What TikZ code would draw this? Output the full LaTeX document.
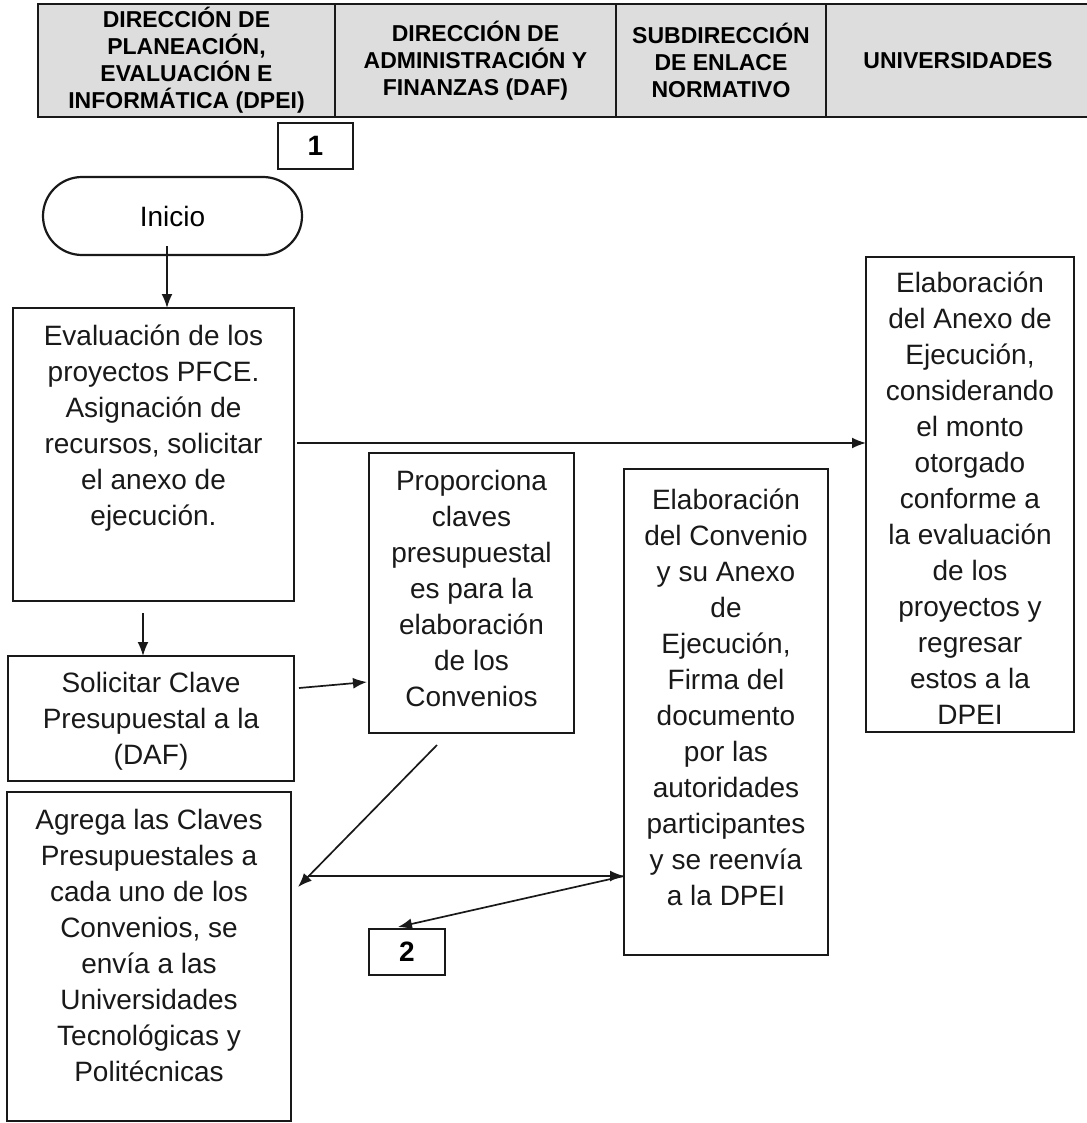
\documentclass[tikz,border=0pt]{standalone}
\usepackage{fontspec}
\setmainfont{Liberation Sans}
\usetikzlibrary{arrows.meta}
\begin{document}
\begin{tikzpicture}[x=1pt,y=-1pt,
  box/.style={draw=black!90, line width=2.2pt, inner sep=0pt, outer sep=0pt},
  hcell/.style={box, fill=gray!27, minimum height=113pt, align=center, font=\fontsize{23}{27}\selectfont\bfseries},
  txt/.style={align=center, inner sep=0pt, font=\fontsize{28}{36}\selectfont, text=black!90},
  num/.style={box, font=\fontsize{28}{32}\selectfont\bfseries},
  arr/.style={-{Latex[length=14pt,width=11pt]}, line width=1.7pt, draw=black!90}]
\useasboundingbox (0,0) rectangle (1086,1123);

% header
\node[hcell, minimum width=297pt] (h1) at (186.5,60.5) {DIRECCIÓN DE\\PLANEACIÓN,\\EVALUACIÓN E\\INFORMÁTICA (DPEI)};
\node[hcell, minimum width=281pt] (h2) at (475.5,60.5) {DIRECCIÓN DE\\ADMINISTRACIÓN Y\\FINANZAS (DAF)};
\node[hcell, minimum width=210pt] (h3) at (721,60.5) {SUBDIRECCIÓN\\DE ENLACE\\NORMATIVO};
\node[hcell, minimum width=264pt] (h4) at (958,60.5) {UNIVERSIDADES};

% connector labels
\node[num, minimum width=75pt, minimum height=46pt] (n1) at (315.5,146) {1};
\node[num, minimum width=76pt, minimum height=46pt] (n2) at (407,952) {2};

% start
\node[box, rounded corners=39pt, minimum width=259pt, minimum height=78pt, font=\fontsize{28}{36}\selectfont] (inicio) at (172.5,216) {Inicio};

% boxes
\node[box, minimum width=281pt, minimum height=293pt] (eval) at (153.5,454.5) {};
\node[box, minimum width=286pt, minimum height=125pt] (sol) at (151,718.5) {};
\node[box, minimum width=284pt, minimum height=329pt] (agr) at (149,956.5) {};
\node[box, minimum width=205pt, minimum height=280pt] (prop) at (471.5,593) {};
\node[box, minimum width=204pt, minimum height=486pt] (conv) at (726,712) {};
\node[box, minimum width=208pt, minimum height=475pt] (anexo) at (970,494.5) {};

% texts
\node[txt] (teval) at (153.5,428) {Evaluación de los\\proyectos PFCE.\\Asignación de\\recursos, solicitar\\el anexo de\\ejecución.};
\node[txt] (tsol) at (151,721) {Solicitar Clave\\Presupuestal a la\\(DAF)};
\node[txt] (tagr) at (149,945) {Agrega las Claves\\Presupuestales a\\cada uno de los\\Convenios, se\\envía a las\\Universidades\\Tecnológicas y\\Politécnicas};
\node[txt] (tprop) at (471.5,588) {Proporciona\\claves\\presupuestal\\es para la\\elaboración\\de los\\Convenios};
\node[txt] (tconv) at (726,697) {Elaboración\\del Convenio\\y su Anexo\\de\\Ejecución,\\Firma del\\documento\\por las\\autoridades\\participantes\\y se reenvía\\a la DPEI};
\node[txt] (tanexo) at (970,498) {Elaboración\\del Anexo de\\Ejecución,\\considerando\\el monto\\otorgado\\conforme a\\la evaluación\\de los\\proyectos y\\regresar\\estos a la\\DPEI};

% connectors
\coordinate (a1) at ([xshift=-5.5pt,yshift=9pt]inicio.south);
\draw[arr] (a1) -- (a1 |- eval.north);
\coordinate (a2) at ([xshift=-10.5pt,yshift=-12pt]eval.south);
\draw[arr] (a2) -- (a2 |- sol.north);
\coordinate (a3) at ([xshift=3pt,yshift=11.5pt]eval.east);
\draw[arr] (a3) -- (a3 -| anexo.west);
\draw[arr] ([xshift=5pt,yshift=30.5pt]sol.east) -- ([xshift=-2pt,yshift=-89pt]prop.west);
\draw[arr] ([xshift=-34.5pt,yshift=-12pt]prop.south) -- ([xshift=7pt,yshift=69.5pt]agr.east);
\coordinate (a6) at ([xshift=17pt,yshift=80.5pt]agr.east);
\draw[arr] (a6) -- (a6 -| conv.west);
\draw[arr] (a6 -| conv.west) -- ([xshift=-9pt,yshift=2pt]n2.north);
\end{tikzpicture}
\end{document}
